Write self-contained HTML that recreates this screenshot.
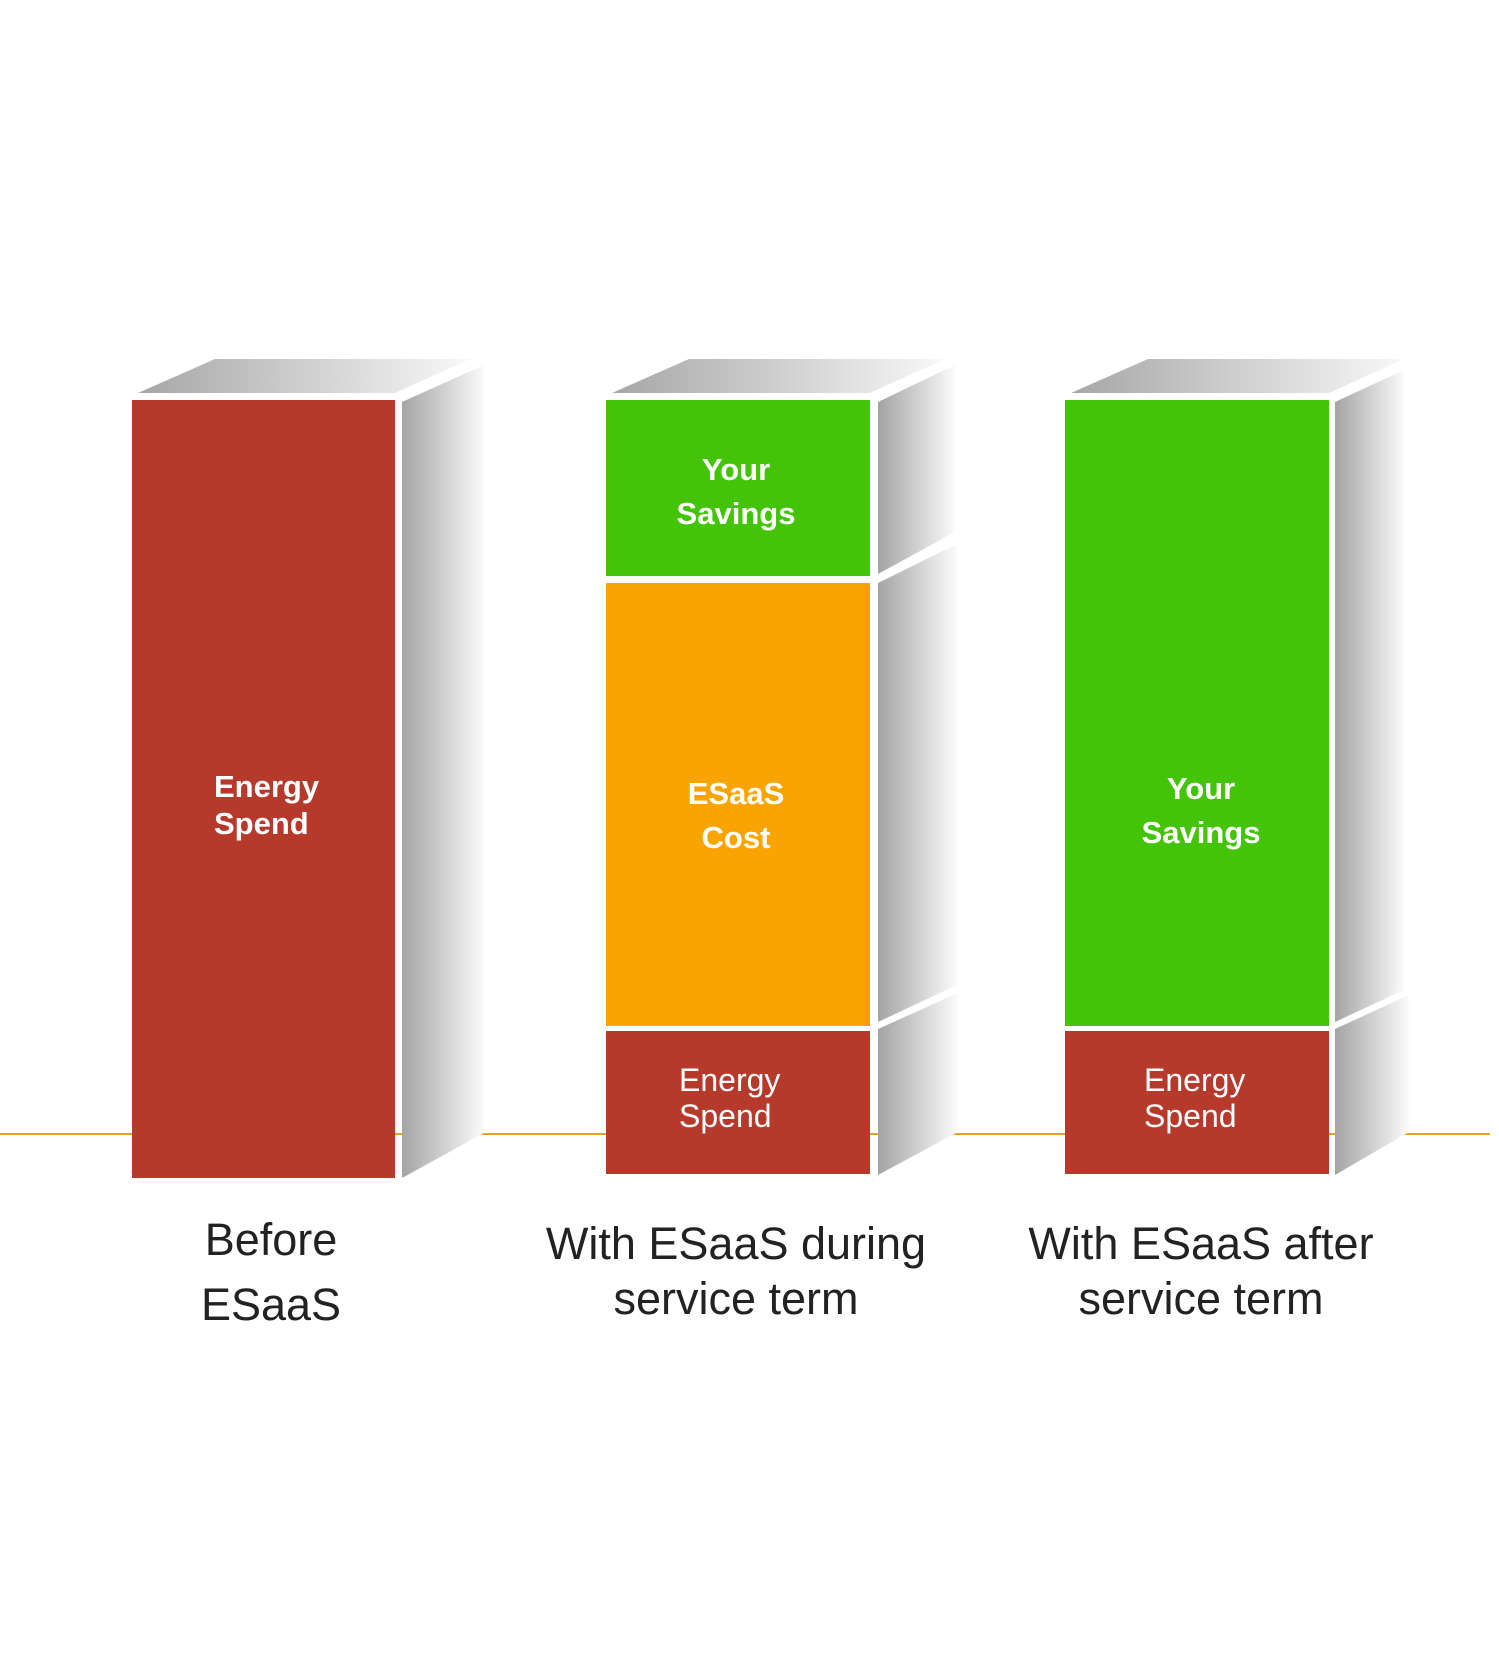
<!DOCTYPE html>
<html><head><meta charset="utf-8"><style>
html,body{margin:0;padding:0;background:#fff;}
svg{display:block;}
text{font-family:"Liberation Sans",sans-serif;}
.b{font-weight:bold;fill:#fff;font-size:31px;}
.n{fill:#fff;font-size:32px;}
.l{fill:#222;font-size:45px;}
</style></head><body>
<svg width="1499" height="1664" viewBox="0 0 1499 1664" xmlns="http://www.w3.org/2000/svg">
<defs>
<linearGradient id="top" x1="0" x2="1" y1="0" y2="0"><stop offset="0" stop-color="#a6a6a6"/><stop offset="1" stop-color="#f8f8f8"/></linearGradient>
<linearGradient id="side" x1="0" x2="1" y1="0" y2="0"><stop offset="0" stop-color="#a4a4a4"/><stop offset="1" stop-color="#fbfbfb"/></linearGradient>
</defs>
<line x1="0" y1="1134" x2="1490" y2="1134" stroke="#e0a326" stroke-width="2"/>
<!-- Bar 1 -->
<polygon points="138,393 215,359 470,359 395,393" fill="url(#top)"/>
<polygon points="402,402 484,365 484,1133 402,1178" fill="url(#side)"/>
<rect x="132" y="400" width="263" height="778" fill="#b53a2c"/>
<text class="b" x="214" y="797">Energy</text>
<text class="b" x="214" y="834">Spend</text>
<!-- Bar 2 -->
<polygon points="612,393 689,359 945,359 870,393" fill="url(#top)"/>
<polygon points="878,402 955,365 955,532 878,574" fill="url(#side)"/>
<polygon points="878,583 957,544 957,985 878,1022" fill="url(#side)"/>
<polygon points="878,1029 958,993 958,1132 878,1175" fill="url(#side)"/>
<rect x="606" y="400" width="264" height="176" fill="#44c408"/>
<rect x="606" y="583" width="264" height="443" fill="#f9a400"/>
<rect x="606" y="1031" width="264" height="143" fill="#b53a2c"/>
<text class="b" x="736" y="480" text-anchor="middle">Your</text>
<text class="b" x="736" y="524" text-anchor="middle">Savings</text>
<text class="b" x="736" y="804" text-anchor="middle">ESaaS</text>
<text class="b" x="736" y="848" text-anchor="middle">Cost</text>
<text class="n" x="679" y="1091">Energy</text>
<text class="n" x="679" y="1127">Spend</text>
<!-- Bar 3 -->
<polygon points="1071,393 1148,359 1404,359 1329,393" fill="url(#top)"/>
<polygon points="1335,402 1404,370 1404,990 1335,1022" fill="url(#side)"/>
<polygon points="1335,1029 1409,995 1409,1132 1335,1175" fill="url(#side)"/>
<rect x="1065" y="400" width="264" height="626" fill="#44c408"/>
<rect x="1065" y="1031" width="264" height="143" fill="#b53a2c"/>
<text class="b" x="1201" y="799" text-anchor="middle">Your</text>
<text class="b" x="1201" y="843" text-anchor="middle">Savings</text>
<text class="n" x="1144" y="1091">Energy</text>
<text class="n" x="1144" y="1127">Spend</text>
<!-- Labels -->
<text class="l" x="271" y="1255" text-anchor="middle">Before</text>
<text class="l" x="271" y="1320" text-anchor="middle">ESaaS</text>
<text class="l" x="736" y="1259" text-anchor="middle">With ESaaS during</text>
<text class="l" x="736" y="1314" text-anchor="middle">service term</text>
<text class="l" x="1201" y="1259" text-anchor="middle">With ESaaS after</text>
<text class="l" x="1201" y="1314" text-anchor="middle">service term</text>
</svg>
</body></html>
